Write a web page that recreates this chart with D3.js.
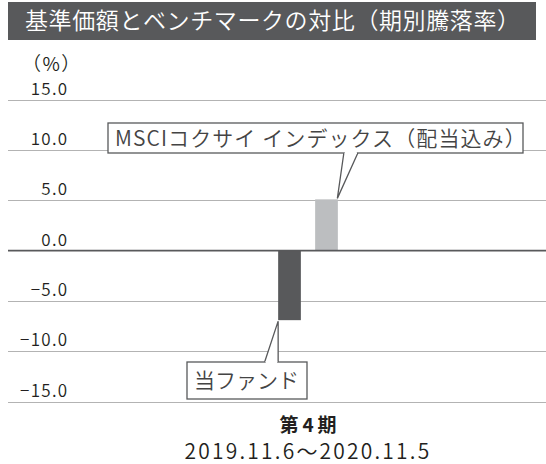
<!DOCTYPE html>
<html>
<head>
<meta charset="utf-8">
<script src="https://cdn.jsdelivr.net/npm/d3@7"></script>
<style>
  html, body { margin: 0; padding: 0; background: #fff; }
  svg { display: block; font-family: "Noto Sans CJK JP", "Noto Sans", sans-serif; }
</style>
</head>
<body>
<div id="chart"></div>
<script>
// data
var titleText = "基準価額とベンチマークの対比（期別騰落率）";
var periods = ["第4期"];
var periodRanges = ["2019.11.6～2020.11.5"];
var seriesNames = ["当ファンド", "MSCIコクサイ インデックス（配当込み）"];
var seriesColors = ["#58595b", "#bcbec0"];
var fundValues = [-6.9];
var benchValues = [5.1];
var yTicks = [15, 10, 5, 0, -5, -10, -15];

var width = 546, height = 464;

var svg = d3.select("#chart").append("svg")
    .attr("width", width)
    .attr("height", height);

// title bar
svg.append("rect")
    .attr("x", 8).attr("y", 2)
    .attr("width", 528).attr("height", 38)
    .attr("fill", "#58595b");
svg.append("text")
    .attr("x", 25).attr("y", 29)
    .attr("fill", "#fff")
    .attr("font-size", 23)
    .attr("font-weight", 350)
    .attr("letter-spacing", 0.6)
    .text(titleText);

var y = d3.scaleLinear()
    .domain([-15, 15])
    .range([401.7, 99.7]);

var x = d3.scaleBand()
    .domain(periods)
    .range([70, 546]);

var groupWidth = 59.7;

// grid lines
svg.append("g").selectAll("line")
    .data(yTicks.filter(d => d !== 0))
    .enter().append("line")
    .attr("x1", 8).attr("x2", 546)
    .attr("y1", d => Math.round(y(d)) + 0.5)
    .attr("y2", d => Math.round(y(d)) + 0.5)
    .attr("stroke", "#b3b3b3")
    .attr("stroke-width", 1.2);

// y labels
var fmt = d3.format(".1f");
svg.append("g").selectAll("text")
    .data(yTicks)
    .enter().append("text")
    .attr("x", 68.5)
    .attr("y", d => y(d) - 5)
    .attr("text-anchor", "end")
    .attr("font-size", 17)
    .attr("font-weight", 350)
    .attr("letter-spacing", 1.3)
    .attr("fill", "#231f20")
    .text(d => fmt(d).replace("-", "‐"));

svg.append("text")
    .attr("x", 22).attr("y", 71)
    .attr("font-size", 19)
    .attr("font-weight", 350)
    .attr("letter-spacing", 1.5)
    .attr("fill", "#231f20")
    .text("（%）");

// bars
var rows = periods.map(function(p, i) {
    return [
        { period: p, name: seriesNames[0], value: fundValues[i], color: seriesColors[0] },
        { period: p, name: seriesNames[1], value: benchValues[i], color: seriesColors[1] }
    ];
});

var inner = d3.scaleBand()
    .domain(seriesNames)
    .paddingInner(0.386);

rows.forEach(function(row) {
    var cx = x(row[0].period) + x.bandwidth() / 2;
    inner.range([cx - groupWidth / 2, cx + groupWidth / 2]);
    svg.append("g").selectAll("rect")
        .data(row)
        .enter().append("rect")
        .attr("x", d => inner(d.name))
        .attr("width", inner.bandwidth())
        .attr("y", d => y(Math.max(0, d.value)))
        .attr("height", d => Math.abs(y(d.value) - y(0)))
        .attr("fill", d => d.color);
});

// zero line
svg.append("line")
    .attr("x1", 8).attr("x2", 546)
    .attr("y1", y(0)).attr("y2", y(0))
    .attr("stroke", "#58595b")
    .attr("stroke-width", 1.8);

// x labels
periods.forEach(function(p, i) {
    var cx = x(p) + x.bandwidth() / 2;
    svg.append("text")
        .attr("x", cx + 2).attr("y", 432)
        .attr("text-anchor", "middle")
        .attr("font-size", 19)
        .attr("font-weight", "bold")
        .attr("letter-spacing", 4)
        .attr("fill", "#231f20")
        .text(p);
    svg.append("text")
        .attr("x", cx).attr("y", 459)
        .attr("text-anchor", "middle")
        .attr("font-size", 21)
        .attr("font-weight", 350)
        .attr("letter-spacing", 2.2)
        .attr("fill", "#231f20")
        .text(periodRanges[i]);
});

// callouts
function callout(box, tip, base, label, spacing) {
    var g = svg.append("g");
    g.append("rect")
        .attr("x", box.x).attr("y", box.y)
        .attr("width", box.w).attr("height", box.h)
        .attr("fill", "#fff")
        .attr("stroke", "#58595b")
        .attr("stroke-width", 1.3);
    g.append("path")
        .attr("d", "M" + base[0][0] + "," + base[0][1] + "L" + tip[0] + "," + tip[1] + "L" + base[1][0] + "," + base[1][1])
        .attr("fill", "#fff")
        .attr("stroke", "#58595b")
        .attr("stroke-width", 1.3);
    // hide box edge under the pointer base
    g.append("line")
        .attr("x1", base[0][0] + 1).attr("x2", base[1][0] - 1)
        .attr("y1", base[0][1]).attr("y2", base[1][1])
        .attr("stroke", "#fff")
        .attr("stroke-width", 2);
    g.append("text")
        .attr("x", box.x + 7).attr("y", box.y + box.h / 2 + 7.5)
        .attr("font-size", 21)
        .attr("font-weight", 350)
        .attr("letter-spacing", spacing)
        .attr("fill", "#444")
        .text(label);
}

var cx0 = x(periods[0]) + x.bandwidth() / 2;
inner.range([cx0 - groupWidth / 2, cx0 + groupWidth / 2]);

// benchmark label: tip at top-right corner of the bar
var bTipX = inner(seriesNames[1]) + inner.bandwidth();
var bTipY = y(benchValues[0]);
callout({ x: 108, y: 123, w: 415, h: 30 },
    [bTipX - 0.5, bTipY - 1],
    [[bTipX + 6, 153], [bTipX + 20, 153]],
    seriesNames[1], 1.1);

// fund label: tip at bottom-left corner of the bar
var fTipX = inner(seriesNames[0]);
var fTipY = y(fundValues[0]);
callout({ x: 187, y: 362, w: 120, h: 37 },
    [fTipX, fTipY + 1],
    [[fTipX - 13.5, 362], [fTipX, 362]],
    seriesNames[0], 0);
</script>
</body>
</html>
